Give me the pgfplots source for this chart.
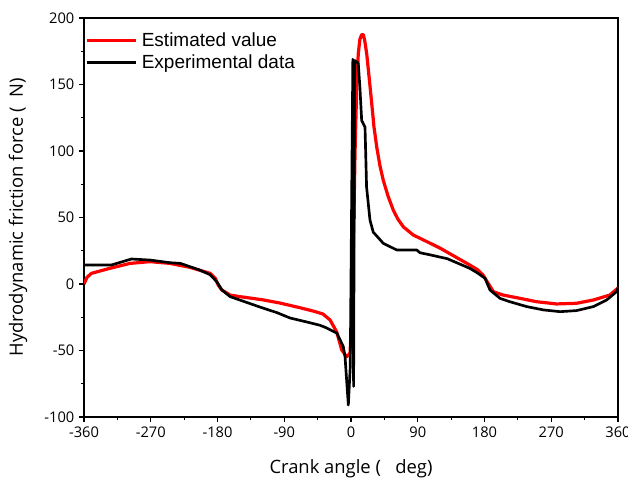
\documentclass[border=0pt]{standalone}
\usepackage{pgfplots}
\pgfplotsset{compat=1.18}
\usepackage{fontspec}
\setmainfont{Open Sans}
\newfontfamily\legfont{Liberation Sans}
\definecolor{pred}{RGB}{255,0,0}
\begin{document}
\begin{tikzpicture}
\begin{axis}[
  scale only axis,
  width=400.5pt, height=299.25pt,
  xmin=-360, xmax=360, ymin=-100, ymax=200,
  xtick={-360,-270,...,360},
  ytick={-100,-50,...,200},
  minor x tick num=1, minor y tick num=1,
  tick pos=left, tick align=outside,
  major tick length=3.75pt, minor tick length=2.25pt,
  axis line style={line width=0.8pt}, tick style={line width=0.8pt, black},
  /pgf/number format/assume math mode=true,
  ticklabel style={font=\fontsize{11}{13}\selectfont},
  xlabel={Crank angle (\ \ \ deg)},
  ylabel={Hydrodynamic friction force (\ \ N)},
  label style={font=\fontsize{13.8}{15}\selectfont},
  xlabel style={at={(axis description cs:0.5,-0.13)}, anchor=center},
  ylabel style={at={(axis description cs:-0.1236,0.5)}, anchor=center, rotate=0},
  legend style={at={(axis description cs:0.0,1.0)}, yshift=-4.5pt, anchor=north west, draw=none, fill=none,
    font=\legfont\fontsize{14.25}{16}\selectfont, row sep=0.8pt, inner xsep=1pt, inner ysep=4pt,
    nodes={inner xsep=3pt}},
  legend cell align=left,
  legend image code/.code={\draw[#1] (0pt,0pt) -- (36.75pt,0pt);},
]
\addplot[pred, line width=2.4pt, line join=round] coordinates {
(-360,0) (-356,5) (-350,8) (-325,11.8) (-298,15.5) (-271,16.8) (-244,15.5) (-217,12.5)
(-190,8) (-183,4.3) (-179,-0.8) (-174.3,-4.5) (-163,-8.3) (-150,-9.5) (-120,-11.8) (-96,-14.3)
(-69,-17.8) (-50,-20.5) (-38,-22.5) (-28.3,-27) (-19.3,-36) (-12.5,-49.6) (-5.8,-54.7) (-1.3,-52)
(0.9,-27) (3.1,23) (5.4,98) (7.7,148) (9.8,173) (12,184) (14.4,187.5) (16.6,187.5)
(18.5,183) (21.2,173) (24.5,155) (27.9,136) (31,118) (34.7,103) (39,89) (43.5,78) (50,66) (57,55.6) (63,49) (70.5,43)
(84,36.8) (93,34.4) (120,27) (160,14.3) (170,11) (178,6.8) (185,0.5) (192,-5.8)
(205,-8.3) (228,-10.8) (250,-13.3) (277,-15) (304,-14.5) (327,-12) (349,-8.3) (360,-3)
};
\addlegendentry{Estimated value}
\addplot[black, line width=2pt, line join=round] coordinates {
(-360,14.3) (-323,14.3) (-296,18.8) (-271,18) (-244,16) (-230,15.5) (-217,13) (-204,10.5)
(-190,7) (-181,1.7) (-174,-4.5) (-163,-9.5) (-145,-13) (-123,-17.3) (-100,-21.5) (-82,-25.6)
(-60,-28.5) (-42,-31) (-33,-33) (-19,-37) (-10.4,-47) (-8,-55) (-3.6,-91) (-1,-62)
(2.5,169) (3.5,-77) (5,168) (9.8,166) (12,148) (14.4,123) (18.9,118) (21,73) (25.6,48)
(30,39) (43.5,30.6) (61.6,25.6) (88.6,25.6) (93,23.5) (106,22) (130,19) (160,11.8)
(170,8.5) (180.7,4.3) (187.4,-4.5) (201,-10.8) (214,-13.3) (237,-17) (259.6,-19.5)
(282,-20.8) (304,-20) (326.7,-17) (344.8,-12) (358,-5.8) (360,-3)
};
\addlegendentry{Experimental data}
\end{axis}
\pgfresetboundingbox
\path[use as bounding box] ([xshift=-63pt,yshift=-51pt]current axis.south west) rectangle ([xshift=7.5pt,yshift=13.5pt]current axis.north east);
\end{tikzpicture}
\end{document}
